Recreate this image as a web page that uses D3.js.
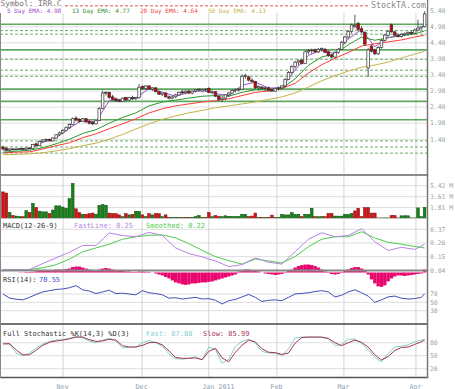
<!DOCTYPE html>
<html>
<head>
<meta charset="utf-8">
<script src="https://cdn.jsdelivr.net/npm/d3@7"></script>
<style>
    body { margin: 0; background: #fff; }
    svg { display: block; }
    text { font-family: "DejaVu Sans Mono", monospace; }
</style>
</head>
<body>
<div id="chart"></div>
<script>
// ---- daily bars, IRR.C, Oct 2010 - Apr 2011 ----
const opens = [1.16,1.12,1.06,1.10,1.09,1.10,1.11,1.09,1.13,1.11, 1.26,1.20,1.33,1.38,1.40,1.35,1.44,1.54,1.60,1.68,
    1.76,1.86,2.06,2.02,1.96,2.04,1.96,1.92,1.88,1.98, 2.36,2.84,2.86,2.72,2.66,2.62,2.58,2.70,2.62,2.70,
    2.66,2.70,3.04,2.98,3.06,2.96,3.00,2.88,2.80,2.84, 2.72,2.68,2.72,2.78,2.88,2.86,2.90,2.84,2.90,2.94,
    2.90,2.94,2.98,2.86,2.88,2.74,2.64,2.68,2.78,2.84, 2.92,2.94,2.96,3.36,3.34,3.24,3.20,3.00,3.02,2.98,
    3.00,2.94,2.90,2.98,3.00,3.06,3.26,3.48,3.66,3.80, 3.86,3.76,4.12,4.16,4.18,4.12,4.20,4.20,4.12,4.02,
    3.96,4.10,4.20,4.42,4.58,4.76,4.90,5.00,4.84,4.72, 3.62,4.30,4.18,4.06,4.26,4.48,4.64,4.96,4.74,4.64,
    4.60,4.66,4.68,4.72,4.70,4.80,4.86,4.90];
const highs = [1.20,1.16,1.12,1.12,1.12,1.12,1.13,1.14,1.15,1.26, 1.30,1.36,1.40,1.42,1.42,1.46,1.56,1.64,1.72,1.80,
    1.90,2.08,2.12,2.06,2.06,2.06,1.98,1.96,2.00,2.40, 2.92,2.90,2.88,2.78,2.70,2.66,2.70,2.72,2.72,2.76,
    2.72,3.12,3.08,3.08,3.08,3.02,3.02,2.92,2.86,2.86, 2.76,2.76,2.82,2.88,2.94,2.92,2.94,2.92,2.96,2.98,
    2.98,2.98,3.02,2.92,2.90,2.76,2.72,2.80,2.86,2.94, 2.98,3.00,3.42,3.44,3.38,3.30,3.22,3.08,3.06,3.04,
    3.04,2.98,3.00,3.04,3.08,3.30,3.52,3.70,3.84,3.88, 3.90,4.16,4.20,4.22,4.22,4.24,4.26,4.24,4.16,4.06,
    4.14,4.24,4.46,4.62,4.80,5.00,5.28,5.06,4.92,4.76, 4.24,4.34,4.22,4.30,4.52,4.68,4.80,5.00,4.78,4.70,
    4.70,4.72,4.76,4.78,4.84,5.12,4.92,5.38];
const lows = [1.06,1.04,1.04,1.07,1.06,1.08,1.08,1.08,1.09,1.10, 1.18,1.19,1.30,1.32,1.33,1.34,1.42,1.50,1.56,1.64,
    1.72,1.84,1.96,1.92,1.94,1.92,1.86,1.84,1.86,1.96, 2.34,2.76,2.66,2.60,2.56,2.56,2.56,2.58,2.60,2.62,
    2.62,2.66,2.94,2.94,2.94,2.90,2.86,2.78,2.74,2.70, 2.64,2.64,2.68,2.76,2.82,2.80,2.80,2.80,2.86,2.88,
    2.86,2.88,2.84,2.80,2.72,2.60,2.56,2.62,2.72,2.80, 2.86,2.88,2.94,3.28,3.20,3.16,2.96,2.92,2.94,2.90,
    2.90,2.88,2.88,2.92,2.96,3.02,3.24,3.44,3.60,3.70, 3.72,3.74,4.04,4.06,4.08,4.08,4.12,4.08,3.96,3.92,
    3.92,4.06,4.18,4.36,4.52,4.70,4.86,4.78,4.70,4.30, 3.34,4.10,4.02,4.02,4.22,4.44,4.58,4.72,4.60,4.56,
    4.56,4.60,4.62,4.64,4.66,4.76,4.80,4.88];
const closes = [1.10,1.06,1.10,1.09,1.10,1.11,1.09,1.13,1.11,1.24, 1.20,1.33,1.38,1.40,1.35,1.44,1.54,1.60,1.68,1.76,
    1.86,2.04,2.00,1.96,2.04,1.94,1.90,1.88,1.98,2.36, 2.84,2.86,2.70,2.64,2.60,2.58,2.68,2.62,2.70,2.66,
    2.70,3.02,2.98,3.06,2.96,3.00,2.88,2.80,2.84,2.72, 2.68,2.72,2.78,2.86,2.84,2.90,2.84,2.90,2.94,2.96,
    2.94,2.96,2.86,2.88,2.74,2.64,2.68,2.78,2.84,2.92, 2.94,2.96,3.36,3.38,3.24,3.20,3.00,3.04,2.98,3.00,
    2.92,2.90,2.98,3.00,3.06,3.26,3.48,3.66,3.80,3.84, 3.76,4.12,4.16,4.18,4.12,4.20,4.22,4.10,4.00,3.96,
    4.10,4.20,4.42,4.58,4.76,4.96,4.94,4.82,4.74,4.36, 4.18,4.14,4.06,4.26,4.48,4.64,4.76,4.74,4.64,4.60,
    4.66,4.68,4.72,4.70,4.80,4.86,4.90,5.30];
// volume in millions
const volumes = [4.4,4.2,1.0,0.5,0.4,0.3,0.3,1.3,1.0,2.5, 1.8,1.2,1.1,1.1,0.8,1.4,2.1,2.1,1.9,1.7,
    3.3,5.8,1.6,1.0,0.7,0.7,0.8,0.9,0.7,2.2, 2.3,2.2,0.9,0.8,0.8,0.6,0.3,0.8,0.6,0.7,
    1.2,1.2,0.6,0.3,0.8,0.6,0.8,0.8,0.3,0.6, 0.2,0.2,0.2,0.2,0.2,0.2,0.2,0.2,0.3,0.5,
    0.2,0.2,1.0,0.3,0.5,0.3,0.3,0.45,0.35,0.35, 0.35,0.35,0.7,0.7,0.3,0.4,0.9,0.2,0.2,0.2,
    0.2,0.55,0.2,0.2,0.7,0.6,0.6,1.0,0.7,0.7, 0.3,0.7,0.7,1.7,0.3,0.3,0.3,0.3,0.85,0.85,
    0.4,0.4,0.4,0.7,0.7,0.85,1.25,1.7,0.3,1.8, 1.8,0.9,0.9,0.1,0.1,0.1,0.1,0.5,0.5,0.1,
    0.45,0.45,0.45,0.1,0.1,1.75,0.3,1.85];

// moving averages and MACD, read every 4th bar
const emaIdx = [0,4,8,12,16,20,24,28,32,36,40,44,48,52,56,60,64,68,72,76,80,84,88,92,96,100,104,108,112,116,120,124,127];
const ema5 = [1.06,1.08,1.11,1.30,1.45,1.75,2.00,1.94,2.60,2.64,2.68,2.98,2.86,2.74,2.86,2.92,2.82,2.76,3.08,3.18,
    2.99,3.01,3.56,4.01,4.18,4.06,4.52,4.82,4.28,4.56,4.66,4.73,4.98];
const ema13 = [1.00,1.03,1.06,1.14,1.26,1.40,1.58,1.70,1.90,2.08,2.22,2.44,2.56,2.62,2.68,2.74,2.76,2.74,2.86,2.94,
    2.94,2.98,3.28,3.70,3.96,4.06,4.34,4.58,4.48,4.56,4.62,4.68,4.77];
const ema20 = [0.98,1.00,1.01,1.10,1.20,1.29,1.45,1.57,1.73,1.88,2.04,2.22,2.35,2.44,2.50,2.56,2.60,2.66,2.76,2.86,
    2.90,2.98,3.14,3.46,3.72,3.92,4.10,4.30,4.37,4.43,4.49,4.58,4.64];
const ema50 = [0.92,0.93,0.95,0.98,1.04,1.11,1.20,1.28,1.40,1.55,1.72,1.88,2.02,2.13,2.22,2.30,2.38,2.44,2.50,2.56,
    2.64,2.72,2.84,3.03,3.22,3.38,3.52,3.64,3.71,3.80,3.93,4.05,4.13];
const macdFast = [0.045,0.045,0.046,0.095,0.140,0.185,0.240,0.240,0.340,0.320,0.310,0.345,0.320,0.220,0.175,0.148,0.115,
    0.070,0.085,0.140,0.105,0.090,0.190,0.290,0.342,0.310,0.320,0.375,0.270,0.200,0.225,0.208,0.25];
const macdSmooth = [0.046,0.046,0.046,0.060,0.085,0.130,0.188,0.220,0.250,0.290,0.310,0.322,0.325,0.300,0.255,0.200,0.150,
    0.118,0.090,0.130,0.115,0.100,0.150,0.230,0.290,0.310,0.310,0.350,0.300,0.265,0.250,0.232,0.22];
// MACD histogram, every bar
const macdHist = [0,0,0,0,0,0.002,0.002,0.004,0.004,0.006, 0.010,0.012,0.016,0.016,0.020,0.020,0.024,0.024,0.024,0.028,
    0.032,0.044,0.048,0.048,0.040,0.032,0.024,0.020,0.020,0.024, 0.032,0.036,0.032,0.024,0.020,0.016,0.012,0.008,0.008,0.004,
    0.004,0.008,0.008,0.006,0.004,0,-0.008,-0.016,-0.024,-0.036, -0.048,-0.064,-0.080,-0.088,-0.096,-0.100,-0.096,-0.088,-0.088,-0.084,
    -0.080,-0.080,-0.076,-0.072,-0.064,-0.056,-0.048,-0.040,-0.032,-0.024, -0.016,0.008,0.016,0.024,0.024,0.020,0.016,0.008,0,-0.008,
    -0.012,-0.016,-0.020,-0.016,-0.012,-0.004,0.012,0.024,0.040,0.052, 0.060,0.064,0.064,0.060,0.052,0.040,0.024,0.008,-0.004,-0.012,
    -0.016,-0.012,-0.004,0.012,0.024,0.036,0.044,0.044,0.032,0.016, -0.016,-0.056,-0.088,-0.112,-0.116,-0.104,-0.072,-0.048,-0.032,-0.024,
    -0.024,-0.028,-0.024,-0.020,-0.016,-0.012,-0.008,0.024];

// oscillators, read every 2nd bar
const oscIdx = d3.range(0, 127, 2).concat([127]);
const rsi = [70,60,57.5,56,62,69,75,78,81,82, 85,90,80,77,71,75,79,71,72,70, 68,78,73,71,68,60,61,58,60,62,
    58,59,55,46,54,57,63,69,62,52, 55,56,54,62,70,71.5,73,76,78,75, 63,67,75,80,73,65,50,56,63,65, 60,58,59,62,70.55];
const stochFast = [79,76,56,50,56,68,77,83,86,87, 90,94,91,84,80,86,90,84,68,70, 70,80,85,80,72,54,43,42,44,47,
    40,70,64,32,42,71,83,88,79,60, 56,56,50,66,91,93,93,93,92,89, 73,76,88,88,78,64,46,36,55,70, 72,75,82,86,87.88];
const stochSlow = [77,78,63,52,52,63,74,81,84,86, 89,93,93,87,83,84,88,86,73,70, 70,74,80,81,75,61,46,44,44,45,
    41,60,67,45,36,58,74,86,82,66, 58,57,53,56,79,92,93,93,93,90, 80,73,80,86,81,70,52,40,48,62, 69,70,76,82,85.99];

// support / resistance levels
const levelsSolid = [4.98, 4.18, 2.96, 2.58, 2.01];
const levelsDashed = [4.78, 4.67, 3.89, 3.55, 3.36, 1.35, 1.16, 0.97];
const levelsRed = [5.55];

// ticks
const priceTicks = [5.40, 4.90, 4.40, 3.90, 3.40, 2.90, 2.40, 1.90, 1.40];
const volTicks = [5.42, 3.61, 1.81];
const macdTicks = [0.37, 0.26, 0.15, 0.04];
const rsiTicks = [70, 50, 30];
const stochTicks = [80, 50, 20];
const monthLabels = ["Nov", "Dec", "Jan 2011", "Feb", "Mar", "Apr"];
const monthAt = [18.1, 41.9, 62, 82.5, 102.7, 124.4];

const width = 455, height = 389, plotRight = 427.5, labelX = 430;

const x = d3.scaleLinear().domain([0, closes.length - 1]).range([3, 424.6]);
const priceY = d3.scaleLinear().domain([1.40, 5.40]).range([139.3, 10.7]);
const volY = d3.scaleLinear().domain([0, 5.42]).range([218.5, 185.7]);
const macdY = d3.scaleLinear().domain([0.04, 0.37]).range([270.3, 229.3]);
const histY = d3.scaleLinear().domain([0, 0.1]).range([272.5, 260.1]);
const rsiY = d3.scaleLinear().domain([30, 70]).range([310.7, 294]);
const stochY = d3.scaleLinear().domain([20, 80]).range([368.7, 342.7]);

const svg = d3.select("#chart").append("svg")
    .attr("width", width)
    .attr("height", height);

function hGrid(ticks, scale) {
    svg.append("g").selectAll("line")
        .data(ticks)
        .join("line")
        .attr("x1", 0).attr("x2", plotRight)
        .attr("y1", d => scale(d)).attr("y2", d => scale(d))
        .attr("stroke", "#dedede");
}

function rightLabels(ticks, scale, fmt) {
    svg.append("g").selectAll("text")
        .data(ticks)
        .join("text")
        .attr("x", labelX)
        .attr("y", d => scale(d))
        .attr("dy", "0.35em")
        .attr("font-size", 6.4)
        .attr("fill", "#9aa6a6")
        .text(fmt);
}

function series(idx, values, scale, color, w) {
    const line = d3.line().x(d => x(d[0])).y(d => scale(d[1]));
    svg.append("path")
        .datum(idx.map((k, j) => [k, values[j]]))
        .attr("d", line)
        .attr("fill", "none")
        .attr("stroke", color)
        .attr("stroke-width", w || 1);
}

// grids
hGrid(priceTicks.slice(1), priceY);
hGrid(volTicks, volY);
hGrid(macdTicks, macdY);
hGrid(rsiTicks, rsiY);
hGrid(stochTicks, stochY);

svg.append("g").selectAll("line")
    .data(monthAt)
    .join("line")
    .attr("x1", d => x(d)).attr("x2", d => x(d))
    .attr("y1", 13).attr("y2", 377.5)
    .attr("stroke", "#d4d4d4");

// support / resistance
svg.append("g").selectAll("line")
    .data(levelsSolid)
    .join("line")
    .attr("x1", 0).attr("x2", plotRight)
    .attr("y1", d => priceY(d)).attr("y2", d => priceY(d))
    .attr("stroke", "#5fa85f")
    .attr("stroke-width", 1.6);

svg.append("g").selectAll("line")
    .data(levelsDashed)
    .join("line")
    .attr("x1", 0).attr("x2", plotRight)
    .attr("y1", d => priceY(d)).attr("y2", d => priceY(d))
    .attr("stroke", "#6aae6a")
    .attr("stroke-dasharray", "3,2");

svg.append("g").selectAll("line")
    .data(levelsRed)
    .join("line")
    .attr("x1", 0).attr("x2", plotRight)
    .attr("y1", d => priceY(d)).attr("y2", d => priceY(d))
    .attr("stroke", "#e85050")
    .attr("stroke-dasharray", "3,2");

// moving averages
series(emaIdx, ema50, priceY, "#c8b24a");
series(emaIdx, ema20, priceY, "#ff3b3b");
series(emaIdx, ema13, priceY, "#2e9a2e");
series(emaIdx, ema5, priceY, "#a352d6");

// candles
const bars = closes.map((c, i) => ({i, o: opens[i], h: highs[i], l: lows[i], c}));
const candle = svg.append("g").selectAll("g")
    .data(bars)
    .join("g");

candle.append("line")
    .attr("x1", d => x(d.i)).attr("x2", d => x(d.i))
    .attr("y1", d => priceY(d.h)).attr("y2", d => priceY(d.l))
    .attr("stroke", "#333")
    .attr("stroke-width", 0.8);

candle.append("rect")
    .attr("x", d => x(d.i) - 1.3)
    .attr("width", 2.6)
    .attr("y", d => priceY(Math.max(d.o, d.c)))
    .attr("height", d => Math.max(0.8, Math.abs(priceY(d.o) - priceY(d.c))))
    .attr("fill", d => d.c >= d.o ? "#fff" : "#d40000")
    .attr("stroke", "#333")
    .attr("stroke-width", 0.7);

// volume
const upDay = i => closes[i] >= (i ? closes[i - 1] : opens[i]);
svg.append("g").selectAll("rect")
    .data(volumes)
    .join("rect")
    .attr("x", (d, i) => x(i) - 1.35)
    .attr("width", 2.7)
    .attr("y", d => volY(d))
    .attr("height", d => volY(0) - volY(d))
    .attr("fill", (d, i) => upDay(i) ? "#178217" : "#d41414")
    .attr("stroke", (d, i) => upDay(i) ? "#0b4d0b" : "#7a0a0a")
    .attr("stroke-width", 0.5);

// MACD
series(emaIdx, macdSmooth, macdY, "#4ccc4c");
series(emaIdx, macdFast, macdY, "#b883e6");

svg.append("g").selectAll("rect")
    .data(macdHist)
    .join("rect")
    .attr("x", (d, i) => x(i) - 1.66)
    .attr("width", 3.4)
    .attr("y", d => Math.min(histY(d), histY(0)))
    .attr("height", d => Math.abs(histY(d) - histY(0)))
    .attr("fill", "#e8066e");

// RSI and stochastic
series(oscIdx, rsi, rsiY, "#4050b8");
series(oscIdx, stochFast, stochY, "#7fd0cc");
series(oscIdx, stochSlow, stochY, "#a83256");

// panel frames
const frames = [
    {y: 175, c: "#8a8a8a", w: 2},
    {y: 218.5, c: "#c4c4c4", w: 1},
    {y: 270.5, c: "#8a8a8a", w: 2},
    {y: 324, c: "#444", w: 1.5},
    {y: 377.5, c: "#555", w: 1.5}
];
svg.append("g").selectAll("line")
    .data(frames)
    .join("line")
    .attr("x1", 0).attr("x2", plotRight + 0.7)
    .attr("y1", d => d.y).attr("y2", d => d.y)
    .attr("stroke", d => d.c)
    .attr("stroke-width", d => d.w);

svg.append("line")
    .attr("x1", plotRight).attr("x2", plotRight)
    .attr("y1", 0).attr("y2", 378)
    .attr("stroke", "#777").attr("stroke-width", 1.5);
svg.append("line")
    .attr("x1", 0.5).attr("x2", 0.5)
    .attr("y1", 13).attr("y2", 378)
    .attr("stroke", "#888").attr("stroke-width", 1);

// right-hand labels
rightLabels(priceTicks, priceY, d => d.toFixed(2));
rightLabels(volTicks, volY, d => d.toFixed(2) + " M");
rightLabels(macdTicks, macdY, d => d.toFixed(2));
rightLabels(rsiTicks, rsiY, d => d);
rightLabels(stochTicks, stochY, d => d);

// month labels
svg.append("g").selectAll("text")
    .data(monthAt)
    .join("text")
    .attr("x", d => x(d) - 6.5)
    .attr("y", 388.5)
    .attr("font-size", 6.7)
    .attr("fill", "#8e9eb0")
    .text((d, i) => monthLabels[i]);

// titles and legends: parts are [text, colour, x]
function label(yp, size, parts, boxed) {
    const t = svg.append("text")
        .attr("y", yp)
        .attr("font-size", size);
    parts.forEach(p => t.append("tspan").attr("x", p[2]).attr("fill", p[1]).text(p[0]));
    if (boxed) {
        const b = t.node().getBBox();
        svg.insert("rect", () => t.node())
            .attr("x", b.x - 1).attr("y", b.y + 1)
            .attr("width", b.width + 2).attr("height", b.height - 2.5)
            .attr("fill", "#fff");
    }
    return t;
}

const last = a => a[a.length - 1].toFixed(2);

label(6.2, 7.8, [["Symbol: IRR.C", "#777", 0.5]], true);
label(7.6, 8.3, [["StockTA.com", "#8a8a8a", 371]], true);

label(13.4, 6, [
    ["5 Day EMA: " + last(ema5), "#9a4ad0", 7],
    ["13 Day EMA: " + last(ema13), "#2e8f2e", 72],
    ["20 Day EMA: " + last(ema20), "#f04040", 140],
    ["50 Day EMA: " + last(ema50), "#c8b24a", 208]
]);

label(228, 7, [
    ["MACD(12-26-9)", "#333", 3],
    ["FastLine: " + last(macdFast), "#b883e6", 74],
    ["Smoothed: " + last(macdSmooth), "#4ccc4c", 146]
]);
label(281.5, 7, [["RSI(14):", "#333", 3], [last(rsi), "#4050c8", 39]]);
label(335.5, 7, [
    ["Full Stochastic %K(14,3) %D(3)", "#333", 3],
    ["Fast: " + last(stochFast), "#7fd0cc", 146],
    ["Slow: " + last(stochSlow), "#a83256", 203]
]);
</script>
</body>
</html>
